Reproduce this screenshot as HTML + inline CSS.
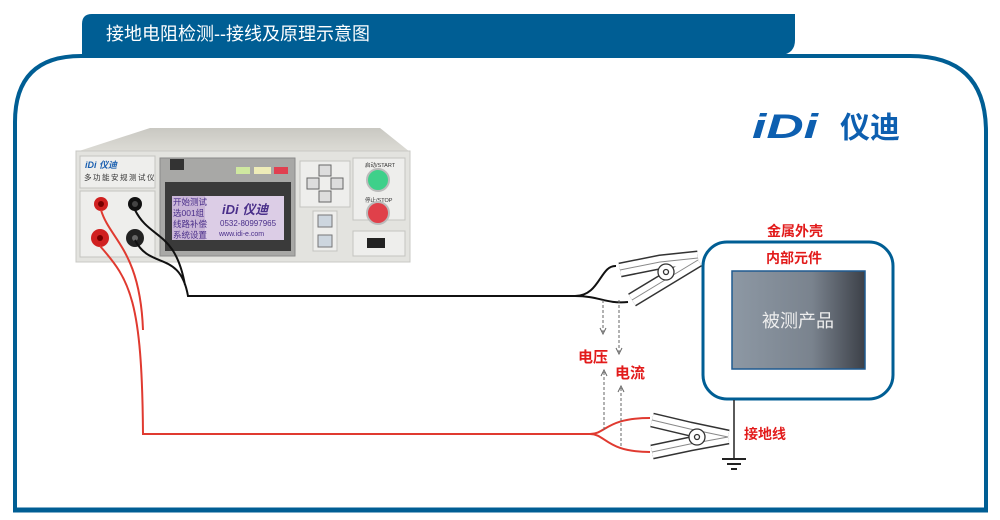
<!DOCTYPE html>
<html><head><meta charset="utf-8"><style>
html,body{margin:0;padding:0;background:#fff;width:1000px;height:520px;overflow:hidden}
svg{display:block}
text{font-family:"Liberation Sans","Noto Sans CJK SC",sans-serif}
</style></head><body>
<svg width="1000" height="520" viewBox="0 0 1000 520" xmlns="http://www.w3.org/2000/svg">
<defs>
<linearGradient id="dut" x1="0" x2="1"><stop offset="0" stop-color="#8d98a4"/><stop offset="0.6" stop-color="#7a838e"/><stop offset="1" stop-color="#3c4048"/></linearGradient>
<linearGradient id="top" x1="0" y1="0" x2="0" y2="1"><stop offset="0" stop-color="#c9c8c2"/><stop offset="1" stop-color="#dddcd6"/></linearGradient>
</defs>
<path d="M82,55 L82,24 Q82,14 92,14 L795,14 L795,40 Q795,53 782,55 Z" fill="#005e94"/>
<text x="106" y="40" font-size="18" fill="#fff" font-family="Noto Serif CJK SC,serif">接地电阻检测--接线及原理示意图</text>
<path d="M15,512 L15,122 Q15,56 81,56 L910,56 Q986,56 986,132 L986,510 L15,510" fill="none" stroke="#005e94" stroke-width="4"/>
<line x1="13" y1="510" x2="988" y2="510" stroke="#005e94" stroke-width="5"/>
<text x="752" y="138" font-size="34" font-weight="bold" font-style="italic" fill="#0d5fb0" textLength="66" lengthAdjust="spacingAndGlyphs">iDi</text>
<text x="840" y="138" font-size="30" font-weight="bold" fill="#0d5fb0">仪迪</text>
<!-- device -->
<path d="M76,152 L150,128 L380,128 L410,152 Z" fill="url(#top)"/>
<rect x="76" y="151" width="334" height="111" fill="#e3e3df" stroke="#c8c8c4"/>
<rect x="80" y="156" width="75" height="32" fill="#eeeeec" stroke="#c4c4c0"/>
<text x="85" y="168" font-size="9" font-weight="bold" font-style="italic" fill="#1a5fb0">iDi 仪迪</text>
<text x="84" y="180" font-size="7.5" fill="#333" letter-spacing="1.5">多功能安规测试仪</text>
<rect x="80" y="191" width="75" height="66" fill="#eeeeec" stroke="#c4c4c0"/>
<circle cx="101" cy="204" r="7" fill="#d02020"/><circle cx="101" cy="204" r="3" fill="#700"/>
<circle cx="135" cy="204" r="7" fill="#111"/><circle cx="135" cy="204" r="3" fill="#444"/>
<circle cx="100" cy="238" r="9" fill="#d02020"/><circle cx="100" cy="238" r="3" fill="#700"/>
<circle cx="135" cy="238" r="9" fill="#222"/><circle cx="135" cy="238" r="3" fill="#666"/>
<rect x="160" y="158" width="135" height="98" fill="#a8a8a6" stroke="#8a8a8a"/>
<rect x="170" y="159" width="14" height="11" fill="#333"/>
<rect x="236" y="167" width="14" height="7" fill="#cfe8a0"/><rect x="254" y="167" width="17" height="7" fill="#eeecb8"/><rect x="274" y="167" width="14" height="7" fill="#e04050"/>
<rect x="165" y="182" width="126" height="69" fill="#3a3a3a"/>
<rect x="172" y="196" width="112" height="44" fill="#dccde6"/>
<rect x="172" y="196" width="33" height="44" fill="#cab6d8"/>
<text x="173" y="205" font-size="8.5" fill="#4a2f8a">开始测试</text>
<text x="173" y="216" font-size="8.5" fill="#4a2f8a">选001组</text>
<text x="173" y="227" font-size="8.5" fill="#4a2f8a">线路补偿</text>
<text x="173" y="238" font-size="8.5" fill="#4a2f8a">系统设置</text>
<text x="222" y="214" font-size="13" font-weight="bold" font-style="italic" fill="#4a2f8a">iDi 仪迪</text>
<text x="220" y="226" font-size="8" fill="#4a2f8a">0532-80997965</text>
<text x="219" y="236" font-size="7" fill="#4a2f8a" font-family="Liberation Mono">www.idi-e.com</text>
<rect x="300" y="161" width="50" height="46" fill="#eeeeec" stroke="#c4c4c0"/>
<rect x="319" y="165" width="12" height="11" fill="#ddd" stroke="#666"/><rect x="307" y="178" width="12" height="11" fill="#ddd" stroke="#666"/><rect x="331" y="178" width="12" height="11" fill="#ddd" stroke="#666"/><rect x="319" y="191" width="12" height="11" fill="#ddd" stroke="#666"/>
<rect x="313" y="211" width="24" height="40" fill="#eeeeec" stroke="#c4c4c0"/>
<rect x="318" y="215" width="14" height="12" fill="#cdd6df" stroke="#777"/><rect x="318" y="235" width="14" height="12" fill="#cdd6df" stroke="#777"/>
<rect x="353" y="158" width="52" height="62" fill="#eeeeec" stroke="#c4c4c0"/>
<text x="365" y="167" font-size="5.5" fill="#333">启动/START</text>
<circle cx="378" cy="180" r="11" fill="#3ed08a" stroke="#bbb" stroke-width="2"/>
<text x="365" y="202" font-size="5.5" fill="#333">停止/STOP</text>
<circle cx="378" cy="213" r="11" fill="#e0404a" stroke="#bbb" stroke-width="2"/>
<rect x="353" y="231" width="52" height="25" fill="#eeeeec" stroke="#c4c4c0"/>
<rect x="367" y="238" width="18" height="10" fill="#222"/>
<!-- black wires -->
<path d="M135,210 C150,240 175,230 185,285 M135,240 C150,270 180,250 188,296 L575,296 C600,296 600,265 616,266 M575,296 C600,296 605,304 628,302" fill="none" stroke="#111" stroke-width="2"/>
<!-- red wires -->
<path d="M101,210 C110,240 140,250 143,330 M100,246 C130,280 142,300 143,434 L590,434 C606,434 606,418 650,418 M590,434 C606,434 606,452 650,452" fill="none" stroke="#e03a30" stroke-width="2"/>
<!-- clamps -->
<g fill="none" stroke-linejoin="round">
<g stroke="#333" stroke-width="15">
<path d="M620,270 L660,262 L698,258"/><path d="M632,300 L665,280 L698,260"/>
<path d="M652,420 L690,429 L728,437"/><path d="M652,452 L690,444 L728,437"/>
</g>
<g stroke="#fff" stroke-width="12">
<path d="M620,270 L660,262 L698,258"/><path d="M632,300 L665,280 L698,260"/>
<path d="M652,420 L690,429 L728,437"/><path d="M652,452 L690,444 L728,437"/>
</g>
<g stroke="#888" stroke-width="1">
<path d="M620,270 L660,262 L698,258"/><path d="M632,300 L665,280 L698,260"/>
<path d="M652,420 L690,429 L728,437"/><path d="M652,452 L690,444 L728,437"/>
</g>
</g>
<g fill="#fff" stroke="#333" stroke-width="1.3">
<circle cx="666" cy="272" r="8"/><circle cx="666" cy="272" r="2.5"/>
<circle cx="697" cy="437" r="8"/><circle cx="697" cy="437" r="2.5"/>
</g>
<g stroke="#666" stroke-width="1" stroke-dasharray="3,2" fill="none">
<line x1="603" y1="300" x2="603" y2="332"/><line x1="619" y1="300" x2="619" y2="352"/>
<line x1="604" y1="372" x2="604" y2="432"/><line x1="621" y1="388" x2="621" y2="448"/>
</g>
<g stroke="#666" stroke-width="1" fill="none">
<path d="M600,328 L603,334 L606,328"/><path d="M616,348 L619,354 L622,348"/>
<path d="M601,376 L604,370 L607,376"/><path d="M618,392 L621,386 L624,392"/>
</g>
<text x="578" y="362" font-size="15" font-weight="bold" fill="#e21b1b">电压</text>
<text x="615" y="378" font-size="15" font-weight="bold" fill="#e21b1b">电流</text>
<text x="767" y="236" font-size="14" font-weight="bold" fill="#e21b1b">金属外壳</text>
<rect x="703" y="242" width="190" height="157" rx="24" fill="#fff" stroke="#005e94" stroke-width="3"/>
<text x="766" y="263" font-size="14" font-weight="bold" fill="#e21b1b">内部元件</text>
<rect x="732" y="271" width="133" height="98" fill="url(#dut)" stroke="#1f5a90" stroke-width="1.5"/>
<text x="798" y="327" font-size="18" fill="#eee" text-anchor="middle" font-family="Noto Serif CJK SC,serif">被测产品</text>
<line x1="734" y1="400" x2="734" y2="458" stroke="#222" stroke-width="1.5"/>
<line x1="722" y1="459" x2="746" y2="459" stroke="#222" stroke-width="2"/>
<line x1="727" y1="464" x2="741" y2="464" stroke="#222" stroke-width="2"/>
<line x1="731" y1="469" x2="737" y2="469" stroke="#222" stroke-width="2"/>
<text x="744" y="439" font-size="14" font-weight="bold" fill="#e21b1b">接地线</text>
</svg>
</body></html>
